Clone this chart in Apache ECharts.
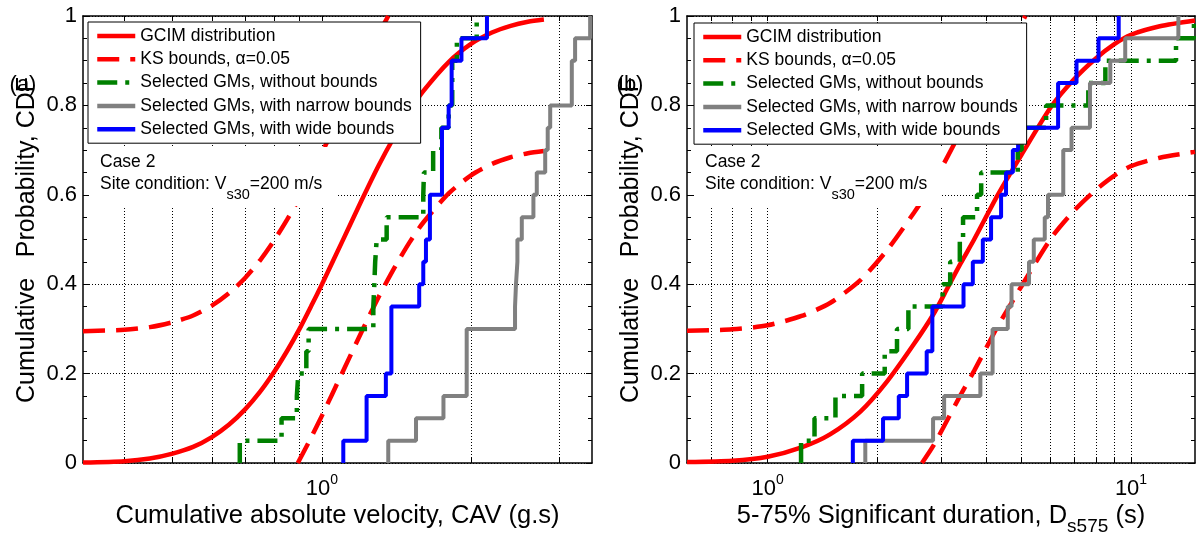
<!DOCTYPE html>
<html><head><meta charset="utf-8">
<script src="https://cdn.jsdelivr.net/npm/echarts@6/dist/echarts.min.js"></script>
<style>html,body{margin:0;padding:0;background:#fff}#c{width:1196px;height:534px}</style>
</head><body><div id="c"></div>
<script>
// ---------- data ----------
const seriesNames = ['GCIM distribution', 'KS bounds, \u03b1=0.05', 'Selected GMs, without bounds', 'Selected GMs, with narrow bounds', 'Selected GMs, with wide bounds'];
const cdfLevels = [0, 0.05, 0.10, 0.15, 0.20, 0.25, 0.30, 0.35, 0.40, 0.45, 0.50, 0.55, 0.60, 0.65, 0.70, 0.75, 0.80, 0.85, 0.90, 0.95, 1.00];

// (a) CAV
const cavRange = [0.33, 3.5];
const cavTicks = [0.4, 0.5, 0.6, 0.7, 0.8, 0.9, 1, 2, 3];
const cavTickLabels = [1];
const cavGcimX = [0.33, 0.4, 0.45, 0.5, 0.55, 0.6, 0.65, 0.7, 0.75, 0.8, 0.85, 0.9, 0.95, 1.0, 1.1, 1.2, 1.3, 1.4, 1.5, 1.6, 1.8, 2.0, 2.2, 2.4, 2.6, 2.8];
const cavGcimY = [0.001, 0.004, 0.010, 0.021, 0.036, 0.058, 0.086, 0.120, 0.159, 0.203, 0.250, 0.299, 0.350, 0.400, 0.497, 0.586, 0.665, 0.731, 0.787, 0.832, 0.897, 0.938, 0.963, 0.978, 0.987, 0.992];
const cavUpperX = [0.33, 0.4, 0.45, 0.5, 0.55, 0.6, 0.65, 0.7, 0.75, 0.8, 0.85, 0.9, 0.95, 1.0, 1.1, 1.2, 1.3, 1.36];
const cavUpperY = [0.295, 0.298, 0.304, 0.315, 0.330, 0.352, 0.380, 0.414, 0.453, 0.497, 0.544, 0.593, 0.644, 0.694, 0.791, 0.880, 0.959, 1.0];
const cavLowerX = [0.894, 0.95, 1.0, 1.1, 1.2, 1.3, 1.4, 1.5, 1.6, 1.8, 2.0, 2.2, 2.4, 2.6, 2.8];
const cavLowerY = [0, 0.056, 0.106, 0.203, 0.292, 0.371, 0.437, 0.493, 0.538, 0.603, 0.644, 0.669, 0.684, 0.693, 0.698];
const cavNoBounds = [0.683, 0.829, 0.89, 0.896, 0.93, 0.94, 1.269, 1.275, 1.28, 1.289, 1.35, 1.6, 1.605, 1.675, 1.74, 1.8, 1.83, 1.83, 1.87, 2.05];
const cavNarrow = [1.36, 1.547, 1.757, 1.957, 1.957, 1.957, 2.449, 2.46, 2.476, 2.476, 2.527, 2.667, 2.709, 2.817, 2.85, 2.883, 3.187, 3.187, 3.236, 3.47];
const cavWide = [1.104, 1.23, 1.23, 1.345, 1.38, 1.38, 1.38, 1.57, 1.60, 1.62, 1.65, 1.65, 1.745, 1.745, 1.745, 1.80, 1.825, 1.825, 1.91, 2.15];

// (b) Ds575
const dsRange = [0.6, 15];
const dsTicks = [0.7, 0.8, 0.9, 1, 2, 3, 4, 5, 6, 7, 8, 9, 10];
const dsTickLabels = [1, 10];
const dsGcimX = [0.6, 0.8, 1.0, 1.24, 1.485, 1.8, 2.13, 2.527, 2.87, 3.13, 3.4, 3.7, 4.3, 5.0, 6.04, 7.0, 8.0, 9.0, 10, 12, 15];
const dsGcimY = [0.002, 0.005, 0.014, 0.035, 0.064, 0.115, 0.182, 0.266, 0.335, 0.392, 0.447, 0.500, 0.600, 0.690, 0.798, 0.860, 0.905, 0.937, 0.958, 0.977, 0.990];
const dsUpperX = [0.6, 0.8, 1.0, 1.24, 1.485, 1.8, 2.13, 2.527, 2.87, 3.13, 3.4, 3.7, 4.3, 5.0, 5.12];
const dsUpperY = [0.296, 0.299, 0.308, 0.329, 0.358, 0.409, 0.476, 0.560, 0.629, 0.686, 0.741, 0.794, 0.894, 0.984, 1.0];
const dsLowerX = [2.66, 2.87, 3.13, 3.4, 3.7, 4.3, 5.0, 6.04, 7.0, 8.0, 9.0, 10, 12, 15];
const dsLowerY = [0, 0.041, 0.098, 0.153, 0.206, 0.306, 0.396, 0.504, 0.566, 0.611, 0.643, 0.664, 0.683, 0.696];
const dsNoBounds = [1.236, 1.346, 1.537, 1.82, 2.10, 2.27, 2.44, 3.03, 3.18, 3.38, 3.45, 3.77, 3.87, 4.88, 5.0, 5.84, 7.63, 8.5, 13.3, 14.9];
const dsNarrow = [1.857, 2.853, 3.06, 3.85, 4.16, 4.16, 4.58, 4.69, 5.24, 5.40, 5.79, 5.91, 6.51, 6.51, 6.86, 7.71, 7.71, 8.77, 9.64, 13.5];
const dsWide = [1.716, 2.078, 2.296, 2.42, 2.74, 2.84, 2.84, 3.46, 3.67, 3.91, 4.12, 4.39, 4.53, 4.73, 4.89, 6.30, 6.30, 7.08, 8.14, 9.25];

// ---------- build ----------
const FONT = '"Liberation Sans", Arial, sans-serif';
const lg = v => Math.log10(v);
const curve = (xs, ys) => xs.map((x, i) => [lg(x), ys[i]]);
const ecdf = xs => [[lg(xs[0]), cdfLevels[0]]].concat(xs.map((x, i) => [lg(x), cdfLevels[i + 1]]));

function xAxes(gridIndex, range, ticks, labels) {
  const common = { type: 'value', gridIndex: gridIndex, min: lg(range[0]), max: lg(range[1]) };
  const tick = { show: true, inside: true, length: 5, customValues: ticks.map(lg), lineStyle: { color: '#000', width: 1 } };
  const line = { show: true, onZero: false, lineStyle: { color: '#000', width: 1.5 } };
  return [
    Object.assign({}, common, {
      position: 'bottom', axisLine: line, axisTick: tick,
      axisLabel: {
        show: true, customValues: labels.map(lg), margin: 10,
        formatter: v => '{b|10}{s|' + Math.round(v) + '}',
        rich: {
          b: { fontSize: 22, lineHeight: 22, fontFamily: FONT, color: '#000', verticalAlign: 'top', padding: [5, 0, 0, 0] },
          s: { fontSize: 14, lineHeight: 14, fontFamily: FONT, color: '#000', verticalAlign: 'top' }
        }
      },
      splitLine: { show: true, lineStyle: { color: '#000', width: 1, type: [1, 2] } }
    }),
    Object.assign({}, common, {
      position: 'top', axisLine: line, axisTick: tick,
      axisLabel: { show: false }, splitLine: { show: false }
    })
  ];
}
function yAxes(gridIndex) {
  const common = { type: 'value', gridIndex: gridIndex, min: 0, max: 1, interval: 0.2 };
  const line = { show: true, onZero: false, lineStyle: { color: '#000', width: 1.5 } };
  const tick = { show: true, inside: true, length: 6, lineStyle: { color: '#000', width: 1 } };
  const minor = { show: true, splitNumber: 4, length: 4, lineStyle: { color: '#000', width: 1 } };
  return [
    Object.assign({}, common, {
      position: 'left', axisLine: line, axisTick: tick, minorTick: minor,
      axisLabel: { show: true, fontSize: 22, fontFamily: FONT, color: '#000', margin: 6 },
      splitLine: { show: true, lineStyle: { color: '#000', width: 1, type: [1, 2] } }
    }),
    Object.assign({}, common, {
      position: 'right', axisLine: line, axisTick: tick, minorTick: minor,
      axisLabel: { show: false }, splitLine: { show: false }
    })
  ];
}
function plotSeries(xi, yi, gx, gy, ux, uy, lx, ly, green, gray, blue) {
  const base = { type: 'line', xAxisIndex: xi, yAxisIndex: yi, symbol: 'none', showSymbol: false, clip: true };
  const smooth = { smooth: 0.25 };
  return [
    Object.assign({}, base, smooth, { name: seriesNames[0], data: curve(gx, gy), lineStyle: { color: '#ff0000', width: 4.5 }, itemStyle: { color: '#ff0000' } }),
    Object.assign({}, base, smooth, { name: seriesNames[1], data: curve(ux, uy), lineStyle: { color: '#ff0000', width: 4.5, type: [22, 11] }, itemStyle: { color: '#ff0000' } }),
    Object.assign({}, base, smooth, { name: seriesNames[1], data: curve(lx, ly), lineStyle: { color: '#ff0000', width: 4.5, type: [22, 11] }, itemStyle: { color: '#ff0000' } }),
    Object.assign({}, base, { name: seriesNames[2], step: 'end', data: ecdf(green), lineStyle: { color: '#008000', width: 4.5, type: [20, 8, 4, 8] }, itemStyle: { color: '#008000' } }),
    Object.assign({}, base, { name: seriesNames[3], step: 'end', data: ecdf(gray), lineStyle: { color: '#808080', width: 4, type: 'solid' }, itemStyle: { color: '#808080' } }),
    Object.assign({}, base, { name: seriesNames[4], step: 'end', data: ecdf(blue), lineStyle: { color: '#0000ff', width: 4, type: 'solid' }, itemStyle: { color: '#0000ff' } })
  ];
}
function mkLegend(left, top) {
  return {
    orient: 'vertical', left: left, top: top, data: seriesNames,
    itemWidth: 38, itemHeight: 14, itemGap: 3.3, padding: [4, 9, 4, 7],
    backgroundColor: '#fff', borderColor: '#000', borderWidth: 1, borderRadius: 0,
    textStyle: { fontSize: 17.5, fontFamily: FONT, color: '#000', lineHeight: 20 },
    itemStyle: { opacity: 0, borderWidth: 0 },
    lineStyle: { width: 4.5 }, selectedMode: false, z: 100
  };
}
function annot(x) {
  return [
    { type: 'rect', shape: { x: x - 11, y: 147, width: 248, height: 59 }, style: { fill: '#fff' }, z: 50, silent: true },
    { type: 'text', z: 60, style: { x: x, y: 162, text: 'Case 2', fontSize: 17.5, fontFamily: FONT, fill: '#000', verticalAlign: 'middle' } },
    { type: 'text', z: 60, style: {
      x: x, y: 175, text: '{m|Site condition: V}{s|s30}{m|=200 m/s}', verticalAlign: 'top', fill: '#000',
      rich: {
        m: { fontSize: 17.5, lineHeight: 18, fontFamily: FONT, fill: '#000', verticalAlign: 'top' },
        s: { fontSize: 14.5, lineHeight: 14.5, fontFamily: FONT, fill: '#000', verticalAlign: 'top', padding: [12, 0, 0, 0] }
      } } }
  ];
}
function yTitle(x, tag, tagX) {
  return [
    { type: 'text', z: 60, x: x, y: 240, rotation: Math.PI / 2, style: { x: 0, y: 0, text: 'Cumulative   Probability, CDF', fontSize: 25, fontFamily: FONT, fill: '#000', align: 'center', verticalAlign: 'middle' } },
    { type: 'text', z: 61, style: { x: tagX, y: 85, text: tag, fontSize: 22, fontFamily: FONT, fill: '#000', align: 'center', verticalAlign: 'middle' } }
  ];
}

const option = {
  animation: false,
  backgroundColor: '#fff',
  textStyle: { fontFamily: FONT },
  grid: [
    { left: 83, top: 16, width: 509, height: 447, containLabel: false },
    { left: 687, top: 16, width: 508, height: 447, containLabel: false }
  ],
  xAxis: xAxes(0, cavRange, cavTicks, cavTickLabels).concat(xAxes(1, dsRange, dsTicks, dsTickLabels)),
  yAxis: yAxes(0).concat(yAxes(1)),
  legend: [mkLegend(88, 22), mkLegend(694, 23)],
  series: plotSeries(0, 0, cavGcimX, cavGcimY, cavUpperX, cavUpperY, cavLowerX, cavLowerY, cavNoBounds, cavNarrow, cavWide)
    .concat(plotSeries(2, 2, dsGcimX, dsGcimY, dsUpperX, dsUpperY, dsLowerX, dsLowerY, dsNoBounds, dsNarrow, dsWide)),
  graphic: { elements: [].concat(
    annot(100), annot(705),
    yTitle(27, '(a)', 23), yTitle(631, '(b)', 630),
    [
      { type: 'text', z: 60, style: { x: 337.5, y: 516, text: 'Cumulative absolute velocity, CAV (g.s)', fontSize: 25.5, fontFamily: FONT, fill: '#000', align: 'center', verticalAlign: 'middle' } },
      { type: 'text', z: 60, style: {
        x: 941, y: 503, text: '{m|5-75% Significant duration, D}{s|s575}{m| (s)}', align: 'center', verticalAlign: 'top', fill: '#000',
        rich: {
          m: { fontSize: 25.5, lineHeight: 26, fontFamily: FONT, fill: '#000', verticalAlign: 'top' },
          s: { fontSize: 19, lineHeight: 19, fontFamily: FONT, fill: '#000', verticalAlign: 'top', padding: [14, 0, 0, 0] }
        } } }
    ]) }
};
const chart = echarts.init(document.getElementById('c'), null, { renderer: 'canvas' });
chart.setOption(option);
</script></body></html>
